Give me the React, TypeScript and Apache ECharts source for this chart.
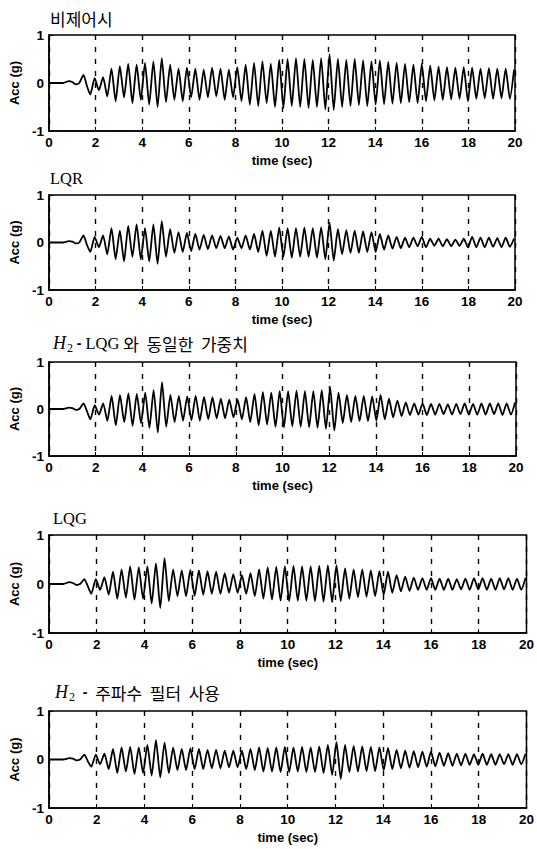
import React, { useEffect, useRef } from "react";
import * as echarts from "echarts";

// extremum times (sec)
const TIMES = [
  0, 0.6, 0.85, 1.0, 1.15, 1.3, 1.48, 1.62, 1.77,
  1.96, 2.14, 2.32, 2.50, 2.68, 2.86, 3.04, 3.22, 3.40, 3.58,
  3.76, 3.94, 4.12, 4.30, 4.48, 4.66, 4.84, 5.02, 5.20, 5.38,
  5.56, 5.74, 5.92, 6.10, 6.28, 6.46, 6.64, 6.82, 7.00, 7.18,
  7.36, 7.54, 7.72, 7.90, 8.08, 8.26, 8.44, 8.62, 8.80, 8.98,
  9.16, 9.34, 9.52, 9.70, 9.88, 10.06, 10.24, 10.42, 10.60, 10.78,
  10.96, 11.14, 11.32, 11.50, 11.68, 11.86, 12.04, 12.22, 12.40, 12.58,
  12.76, 12.94, 13.12, 13.30, 13.48, 13.66, 13.84, 14.02, 14.20, 14.38,
  14.56, 14.74, 14.92, 15.10, 15.28, 15.46, 15.64, 15.82, 16.00, 16.18,
  16.36, 16.54, 16.72, 16.90, 17.08, 17.26, 17.44, 17.62, 17.80, 17.98,
  18.16, 18.34, 18.52, 18.70, 18.88, 19.06, 19.24, 19.42, 19.60, 19.78,
  19.96,
];

const UNCONTROLLED = [
  0, 0, 0.04, 0.02, -0.03, 0.0, 0.17, -0.05, -0.24,
  0.10, -0.15, 0.12, -0.28, 0.30, -0.38, 0.35, -0.30, 0.40, -0.42,
  0.38, -0.35, 0.42, -0.45, 0.45, -0.50, 0.52, -0.40, 0.38, -0.35,
  0.30, -0.38, 0.32, -0.30, 0.30, -0.35, 0.28, -0.30, 0.32, -0.28,
  0.30, -0.35, 0.28, -0.30, 0.33, -0.38, 0.38, -0.45, 0.42, -0.48,
  0.45, -0.42, 0.40, -0.50, 0.48, -0.52, 0.50, -0.48, 0.52, -0.50,
  0.50, -0.52, 0.48, -0.50, 0.52, -0.55, 0.60, -0.56, 0.50, -0.50,
  0.48, -0.48, 0.50, -0.46, 0.47, -0.48, 0.45, -0.45, 0.47, -0.44,
  0.44, -0.43, 0.42, -0.42, 0.40, -0.40, 0.38, -0.42, 0.40, -0.38,
  0.36, -0.36, 0.34, -0.35, 0.33, -0.34, 0.32, -0.33, 0.33, -0.38,
  0.32, -0.33, 0.30, -0.32, 0.31, -0.33, 0.30, -0.32, 0.30, -0.33,
  0.28,
];

const LQR = [
  0, 0, 0.03, 0.02, -0.02, 0.0, 0.15, -0.04, -0.20,
  0.12, -0.10, 0.15, -0.25, 0.30, -0.35, 0.25, -0.40, 0.35, -0.30,
  0.38, -0.35, 0.30, -0.40, 0.38, -0.45, 0.45, -0.30, 0.28, -0.22,
  0.22, -0.20, 0.20, -0.18, 0.18, -0.15, 0.16, -0.14, 0.15, -0.12,
  0.14, -0.12, 0.13, -0.15, 0.10, -0.12, 0.15, -0.15, 0.18, -0.20,
  0.25, -0.28, 0.25, -0.30, 0.32, -0.30, 0.30, -0.32, 0.30, -0.30,
  0.32, -0.30, 0.30, -0.32, 0.32, -0.35, 0.42, -0.38, 0.28, -0.25,
  0.26, -0.22, 0.25, -0.22, 0.24, -0.20, 0.22, -0.20, 0.18, -0.15,
  0.15, -0.13, 0.12, -0.12, 0.10, -0.10, 0.10, -0.08, 0.12, -0.10,
  0.08, -0.07, 0.08, -0.08, 0.07, -0.08, 0.06, -0.07, 0.08, -0.10,
  0.12, -0.10, 0.10, -0.10, 0.10, -0.09, 0.09, -0.10, 0.10, -0.09,
  0.08,
];

const H2_SAME_WEIGHTS = [
  0, 0, 0.03, 0.02, -0.02, 0.0, 0.12, -0.04, -0.22,
  0.08, -0.12, 0.12, -0.25, 0.28, -0.35, 0.30, -0.28, 0.33, -0.36,
  0.32, -0.30, 0.35, -0.40, 0.40, -0.50, 0.57, -0.38, 0.30, -0.28,
  0.28, -0.25, 0.27, -0.24, 0.28, -0.25, 0.26, -0.22, 0.25, -0.20,
  0.22, -0.20, 0.20, -0.18, 0.20, -0.22, 0.25, -0.28, 0.32, -0.35,
  0.36, -0.33, 0.35, -0.38, 0.38, -0.39, 0.38, -0.37, 0.39, -0.38,
  0.38, -0.39, 0.38, -0.40, 0.40, -0.42, 0.46, -0.46, 0.35, -0.30,
  0.30, -0.28, 0.28, -0.26, 0.28, -0.26, 0.27, -0.25, 0.30, -0.22,
  0.22, -0.18, 0.18, -0.15, 0.14, -0.13, 0.12, -0.12, 0.12, -0.13,
  0.11, -0.12, 0.11, -0.11, 0.10, -0.12, 0.11, -0.11, 0.12, -0.12,
  0.11, -0.12, 0.12, -0.12, 0.12, -0.11, 0.12, -0.13, 0.12, -0.12,
  0.14,
];

const LQG = [
  0, 0, 0.04, 0.02, -0.02, 0.0, 0.10, -0.04, -0.20,
  0.10, -0.12, 0.14, -0.22, 0.25, -0.30, 0.30, -0.28, 0.36, -0.32,
  0.34, -0.30, 0.36, -0.40, 0.42, -0.49, 0.53, -0.35, 0.30, -0.25,
  0.28, -0.25, 0.29, -0.24, 0.28, -0.22, 0.26, -0.20, 0.25, -0.20,
  0.22, -0.18, 0.20, -0.18, 0.18, -0.20, 0.22, -0.25, 0.30, -0.30,
  0.34, -0.32, 0.35, -0.34, 0.36, -0.35, 0.37, -0.34, 0.36, -0.34,
  0.36, -0.35, 0.37, -0.36, 0.38, -0.37, 0.38, -0.35, 0.32, -0.30,
  0.30, -0.27, 0.30, -0.26, 0.28, -0.25, 0.26, -0.22, 0.25, -0.18,
  0.18, -0.15, 0.15, -0.14, 0.13, -0.12, 0.12, -0.12, 0.12, -0.12,
  0.11, -0.12, 0.11, -0.12, 0.10, -0.11, 0.11, -0.12, 0.12, -0.11,
  0.12, -0.12, 0.11, -0.12, 0.12, -0.11, 0.12, -0.12, 0.11, -0.12,
  0.12,
];

const H2_FREQ_FILTER = [
  0, 0, 0.03, 0.02, -0.02, 0.0, 0.10, -0.03, -0.15,
  0.10, -0.10, 0.12, -0.20, 0.22, -0.28, 0.25, -0.25, 0.26, -0.30,
  0.25, -0.28, 0.30, -0.33, 0.40, -0.37, 0.35, -0.28, 0.25, -0.22,
  0.22, -0.22, 0.23, -0.20, 0.22, -0.20, 0.20, -0.18, 0.20, -0.18,
  0.18, -0.16, 0.18, -0.16, 0.18, -0.20, 0.22, -0.22, 0.25, -0.25,
  0.24, -0.25, 0.25, -0.26, 0.26, -0.26, 0.25, -0.25, 0.26, -0.26,
  0.25, -0.26, 0.27, -0.28, 0.30, -0.32, 0.36, -0.40, 0.30, -0.26,
  0.28, -0.25, 0.27, -0.24, 0.26, -0.24, 0.25, -0.22, 0.24, -0.20,
  0.20, -0.18, 0.18, -0.17, 0.17, -0.16, 0.16, -0.15, 0.16, -0.14,
  0.14, -0.13, 0.13, -0.13, 0.12, -0.12, 0.12, -0.11, 0.11, -0.11,
  0.12, -0.11, 0.11, -0.11, 0.11, -0.10, 0.11, -0.11, 0.11, -0.10,
  0.12,
];

const X_MIN = 0;
const X_MAX = 20;
const X_STEP = 2;
const Y_MIN = -1;
const Y_MAX = 1;
const Y_STEP = 1;
const X_NAME = "time (sec)";
const Y_NAME = "Acc (g)";

const SERIES_LIST = [UNCONTROLLED, LQR, H2_SAME_WEIGHTS, LQG, H2_FREQ_FILTER];

// layout (pixels)
const LAYOUT = [
  { left: 47, top: 35, width: 468, height: 96, titleX: 50, titleY: 18 },
  { left: 45, top: 195, width: 470, height: 95, titleX: 50, titleY: 178 },
  { left: 46, top: 362, width: 470, height: 94, titleX: 53, titleY: 343 },
  { left: 46, top: 535, width: 482, height: 98, titleX: 53, titleY: 518 },
  { left: 45, top: 711, width: 483, height: 97, titleX: 55, titleY: 692 },
];

const KR = '"Noto Sans CJK KR", sans-serif';
const SERIF = '"Liberation Serif", "Times New Roman", serif';
const SANS = '"Liberation Sans", Arial, sans-serif';

const TITLES = [
  { text: "{k|비제어시}" },
  { text: "{r|LQR}" },
  { text: "{h|H}{s|2}{d| - }{r|LQG}{k| 와  동일한  가중치}" },
  { text: "{r|LQG}" },
  { text: "{h|H}{s|2}{d|  -  }{k|주파수  필터  사용}" },
];

const RICH = {
  k: { fontFamily: KR, fontSize: 17, fontWeight: "normal", color: "#000", lineHeight: 22 },
  r: { fontFamily: SERIF, fontSize: 16.5, color: "#000", lineHeight: 22 },
  h: { fontFamily: SERIF, fontStyle: "italic", fontSize: 18, color: "#000", lineHeight: 22 },
  s: { fontFamily: SERIF, fontSize: 12, color: "#000", lineHeight: 22, padding: [9, 0, 0, 1] },
  d: { fontFamily: SANS, fontWeight: "bold", fontSize: 14, color: "#000", lineHeight: 22 },
};

export default function App() {
  const ref = useRef<HTMLDivElement>(null);

  useEffect(() => {
    if (!ref.current) return;
    const chart = echarts.init(ref.current, null, { renderer: "svg" });

    const grid = LAYOUT.map((l) => ({
      left: l.left,
      top: l.top,
      width: l.width,
      height: l.height,
      show: true,
      borderColor: "#000",
      borderWidth: 1.5,
      backgroundColor: "transparent",
    }));

    const xAxis = LAYOUT.map((_, i) => ({
      type: "value",
      gridIndex: i,
      min: X_MIN,
      max: X_MAX,
      interval: X_STEP,
      name: X_NAME,
      nameLocation: "middle",
      nameGap: 23,
      nameTextStyle: { fontFamily: SANS, fontWeight: "bold", fontSize: 13, color: "#000" },
      axisLine: { show: true, onZero: false, lineStyle: { color: "#000", width: 1.5 } },
      axisTick: { show: true, inside: true, length: 4, lineStyle: { color: "#000", width: 1 } },
      axisLabel: { color: "#000", fontFamily: SANS, fontWeight: "bold", fontSize: 13.5, margin: 4 },
      splitLine: { show: true, lineStyle: { color: "#000", type: [5, 7], width: 1.4 } },
    }));

    const yAxis = LAYOUT.map((_, i) => ({
      type: "value",
      gridIndex: i,
      min: Y_MIN,
      max: Y_MAX,
      interval: Y_STEP,
      name: Y_NAME,
      nameLocation: "middle",
      nameRotate: 90,
      nameGap: 28,
      nameTextStyle: { fontFamily: SANS, fontWeight: "bold", fontSize: 13, color: "#000" },
      axisLine: { show: true, onZero: false, lineStyle: { color: "#000", width: 1.5 } },
      axisTick: { show: true, inside: true, length: 4, lineStyle: { color: "#000", width: 1 } },
      axisLabel: { color: "#000", fontFamily: SANS, fontWeight: "bold", fontSize: 13.5, margin: 5 },
      splitLine: { show: false },
    }));

    const series = SERIES_LIST.map((vals, i) => ({
      type: "line",
      xAxisIndex: i,
      yAxisIndex: i,
      data: TIMES.map((t, k) => [t, vals[k]]),
      showSymbol: false,
      smooth: 0.2,
      lineStyle: { color: "#000", width: 1.8 },
      silent: true,
    }));

    const graphic = TITLES.map((t, i) => ({
      type: "text",
      x: LAYOUT[i].titleX,
      y: LAYOUT[i].titleY,
      style: {
        text: t.text,
        rich: RICH,
        align: "left",
        verticalAlign: "middle",
        fill: "#000",
      },
    }));

    chart.setOption({
      animation: false,
      backgroundColor: "#fff",
      grid,
      xAxis,
      yAxis,
      series,
      graphic,
    });

    return () => chart.dispose();
  }, []);

  return (
    <div
      ref={ref}
      style={{ position: "fixed", left: 0, top: 0, width: 537, height: 849 }}
    />
  );
}
